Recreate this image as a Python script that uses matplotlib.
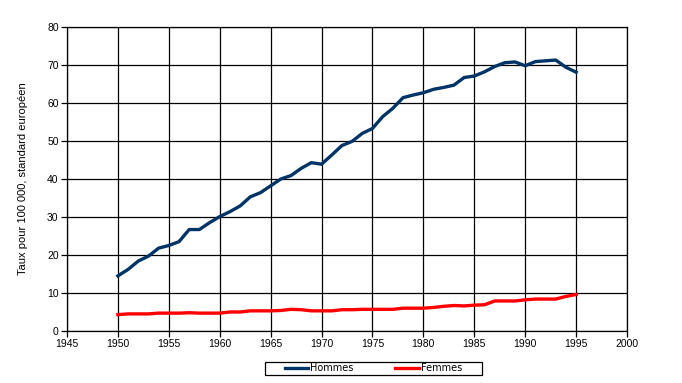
import numpy as np
import matplotlib
matplotlib.use("Agg")
import matplotlib.pyplot as plt
from matplotlib.patches import Rectangle

plt.rcParams['font.family'] = ['Liberation Sans', 'DejaVu Sans']

years = list(range(1950, 1996))
hommes = [14.5, 16.2, 18.4, 19.7, 21.8, 22.5, 23.5, 26.7, 26.7, 28.5,
          30.1, 31.4, 32.9, 35.3, 36.4, 38.2, 40.0, 40.9, 42.8, 44.3,
          43.9, 46.3, 48.8, 49.9, 52.0, 53.3, 56.4, 58.6, 61.4, 62.1,
          62.7, 63.6, 64.1, 64.7, 66.7, 67.1, 68.2, 69.6, 70.6, 70.8,
          69.8, 70.9, 71.1, 71.3, 69.4, 68.1]
femmes = [4.3, 4.5, 4.5, 4.5, 4.7, 4.7, 4.7, 4.8, 4.7, 4.7,
          4.7, 5.0, 5.0, 5.3, 5.3, 5.3, 5.4, 5.7, 5.6, 5.3,
          5.3, 5.3, 5.6, 5.6, 5.7, 5.7, 5.7, 5.7, 6.0, 6.0,
          6.0, 6.2, 6.5, 6.7, 6.6, 6.8, 6.9, 7.9, 7.9, 7.9,
          8.2, 8.4, 8.4, 8.4, 9.1, 9.6]

fig = plt.figure(figsize=(6.82, 3.83), dpi=100)
ax = fig.add_axes([0.0982, 0.1358, 0.8212, 0.7937])

ax.plot(years, hommes, color='#003366', linewidth=2.4, label='Hommes')
ax.plot(years, femmes, color='#ff0000', linewidth=2.4, label='Femmes')

ax.set_xlim(1945, 2000)
ax.set_ylim(0, 80)
ax.set_xticks(np.arange(1945, 2001, 5))
ax.set_yticks(np.arange(0, 81, 10))
ax.grid(True, color='black', linewidth=0.9)
ax.set_axisbelow(True)
for s in ax.spines.values():
    s.set_linewidth(0.9)
ax.tick_params(axis='both', direction='out', length=4, width=0.9, labelsize=7.5, pad=2)
ax.set_ylabel('Taux pour 100 000, standard européen', fontsize=8, labelpad=14)

# legend below the plot, box drawn separately (wide side padding like the original)
leg = fig.legend(loc='center', bbox_to_anchor=(373.5 / 682, 1 - 368.3 / 383), ncol=2,
                 frameon=False, prop={'family': 'DejaVu Sans', 'size': 7},
                 handlelength=2.4, handletextpad=0.2, columnspacing=4.3,
                 borderpad=0, borderaxespad=0)
fig.patches.append(Rectangle((265 / 682, 1 - 375 / 383), 217 / 682, 13.3 / 383,
                             transform=fig.transFigure, fill=False,
                             edgecolor='black', linewidth=0.9))

fig.savefig('out.png', dpi=100)
